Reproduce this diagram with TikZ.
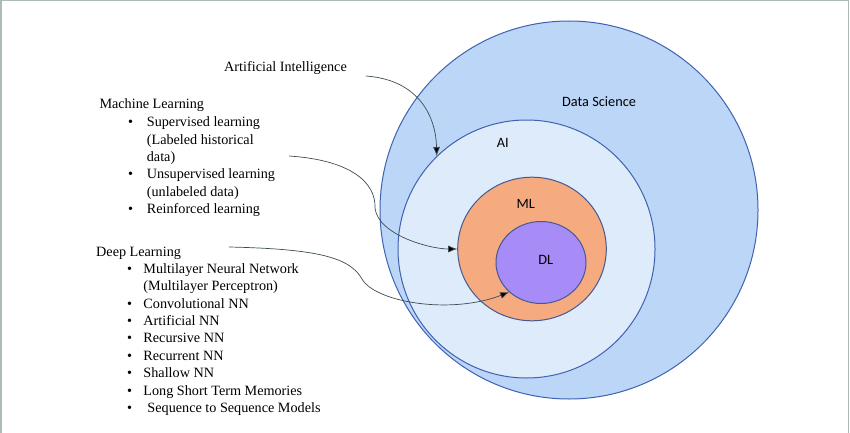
\documentclass[tikz,border=0pt]{standalone}
\usepackage{fontspec}
\setmainfont{Liberation Serif}
\newfontfamily\calibri{Carlito}
\usetikzlibrary{shapes.geometric,arrows.meta}
\definecolor{dsfill}{HTML}{BCD6F8}
\definecolor{aifill}{HTML}{DEEBFB}
\definecolor{mlfill}{HTML}{F5AA80}
\definecolor{dlfill}{HTML}{A78BF7}
\definecolor{ringline}{HTML}{3F62B0}
\definecolor{innerline}{HTML}{45598F}
\definecolor{linkgray}{HTML}{3E4C52}
\definecolor{framegray}{HTML}{AEBABA}
\begin{document}
\begin{tikzpicture}[x=1pt,y=-1pt,
  ring/.style={ellipse,draw=ringline,line width=1pt,inner sep=0pt},
  lbl/.style={font=\calibri\fontsize{14.3}{17}\selectfont,inner sep=0pt},
  txt/.style={font=\fontsize{14.2}{17.4}\selectfont,inner sep=0pt,anchor=base west},
  link/.style={draw=linkgray,line width=0.7pt,-{Latex[length=9pt,width=7pt,fill=black]}}]
\useasboundingbox (0,0) rectangle (850,433);
\draw[framegray,line width=1.5pt] (0.75,433) -- (0.75,0.75) -- (848.5,0.75) -- (848.5,433);
\node[ring,fill=dsfill,minimum width=378pt,minimum height=378pt] (ds) at (569,210) {};
\node[ring,fill=aifill,minimum width=257pt,minimum height=258pt] (ai) at (526.5,249) {};
\node[ring,fill=mlfill,draw=innerline,minimum width=148.6pt,minimum height=143.6pt] (ml) at (532,249) {};
\node[ring,fill=dlfill,draw=innerline,minimum width=90pt,minimum height=82pt] (dl) at (541,262.5) {};
\node[lbl] (dslabel) at (599,102) {Data Science};
\node[lbl] (ailabel) at (502.7,142.7) {AI};
\node[lbl] (mllabel) at (525.7,204) {ML};
\node[lbl] (dllabel) at (545.7,260) {DL};
\node[txt] (aitext) at (224,72) {Artificial Intelligence};
\node[txt] (mltext) at (99.3,108) {Machine Learning};
\node[txt] (mllist) at (128,126.7) {\begin{tabular}[t]{@{}l@{\hspace{13.7pt}}l@{}}
\textbullet & Supervised learning\\
 & (Labeled historical\\
 & data)\\
\textbullet & Unsupervised learning\\
 & (unlabeled data)\\
\textbullet & Reinforced learning
\end{tabular}};
\node[txt] (dltext) at (96,256.7) {Deep Learning};
\node[txt] (dllist) at (126.8,273.3) {\begin{tabular}[t]{@{}l@{\hspace{11.5pt}}l@{}}
\textbullet & Multilayer Neural Network\\
 & (Multilayer Perceptron)\\
\textbullet & Convolutional NN\\
\textbullet & Artificial NN\\
\textbullet & Recursive NN\\
\textbullet & Recurrent NN\\
\textbullet & Shallow NN\\
\textbullet & Long Short Term Memories\\
\textbullet & \hspace{4pt}Sequence to Sequence Models
\end{tabular}};
\coordinate (aistart) at (366,76);
\coordinate (mlstart) at (289,156);
\coordinate (dlstart) at (229,247);
\draw[link] (aistart) .. controls (420,80) and (436,118) .. (ai.134);
\draw[link] (mlstart) .. controls (350,160) and (376,182) .. (375,208) .. controls (378,235) and (430,249) .. (ml.180);
\draw[link] (dlstart) .. controls (320,249) and (350,258) .. (362,279) .. controls (375,302) and (450,315) .. (dl.223);
\end{tikzpicture}
\end{document}
